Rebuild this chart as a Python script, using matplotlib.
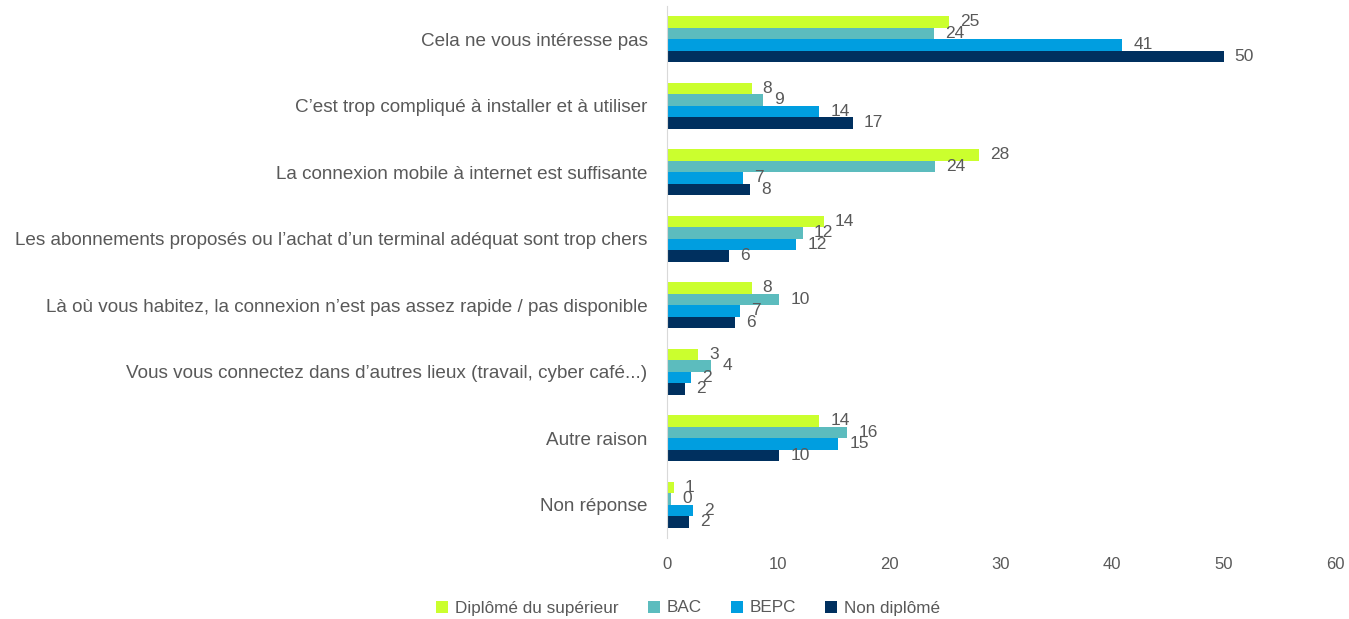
import matplotlib.pyplot as plt
from matplotlib.patches import Patch
import numpy as np

plt.rcParams['font.family'] = ['Liberation Sans', 'DejaVu Sans']

categories = [
    "Cela ne vous intéresse pas",
    "C'est trop compliqué à installer et à utiliser",
    "La connexion mobile à internet est suffisante",
    "Les abonnements proposés ou l'achat d'un terminal adéquat sont trop chers",
    "Là où vous habitez, la connexion n'est pas assez rapide / pas disponible",
    "Vous vous connectez dans d'autres lieux (travail, cyber café...)",
    "Autre raison",
    "Non réponse",
]
series_names = ["Diplômé du supérieur", "BAC", "BEPC", "Non diplômé"]
superieur = [25.3, 7.6, 28.0, 14.1, 7.6, 2.8, 13.7, 0.6]
bac = [24.0, 8.6, 24.1, 12.2, 10.1, 4.0, 16.2, 0.4]
bepc = [40.9, 13.7, 6.8, 11.6, 6.6, 2.2, 15.4, 2.3]
non_diplome = [50.0, 16.7, 7.5, 5.6, 6.1, 1.6, 10.1, 2.0]
colors = ['#CBFF2E', '#5CBCBE', '#009EE0', '#00305F']

categories = [c.replace("'", "\u2019") for c in categories]
all_series = [superieur, bac, bepc, non_diplome]

fig = plt.figure(figsize=(13.49, 6.19), dpi=100)
ax = fig.add_axes([0.4944, 0.1309, 0.4952, 0.8595])

y = np.arange(len(categories))
h = 0.173
text_color = '#595959'
for i, (vals, col, name) in enumerate(zip(all_series, colors, series_names)):
    pos = y + (i - 1.5) * h
    ax.barh(pos, vals, height=h, color=col, label=name)
    for p, v in zip(pos, vals):
        ax.annotate(f"{v:.0f}", (v, p), xytext=(8, 0), textcoords='offset points',
                    va='center', ha='left', fontsize=12.5, color=text_color)

ax.set_ylim(len(categories) - 0.5, -0.5)
ax.set_xlim(0, 60)
ax.set_xticks(range(0, 61, 10))
ax.set_yticks(y)
ax.set_yticklabels(categories, fontsize=13.6, color=text_color)
ax.tick_params(axis='both', length=0, labelcolor=text_color)
ax.tick_params(axis='x', pad=14, labelsize=12)
ax.tick_params(axis='y', pad=14)
for s in ['top', 'right', 'bottom']:
    ax.spines[s].set_visible(False)
ax.spines['left'].set_color('#D9D9D9')

handles = [Patch(facecolor=c, label=n) for c, n in zip(colors, series_names)]
fig.legend(handles=handles, loc='center', bbox_to_anchor=(688 / 1349, 1 - 608 / 619),
           ncol=4, frameon=False, fontsize=12.3, handlelength=0.7, handleheight=0.7,
           handletextpad=0.4, columnspacing=1.7, labelcolor=text_color)

fig.savefig('out.png', dpi=100)
